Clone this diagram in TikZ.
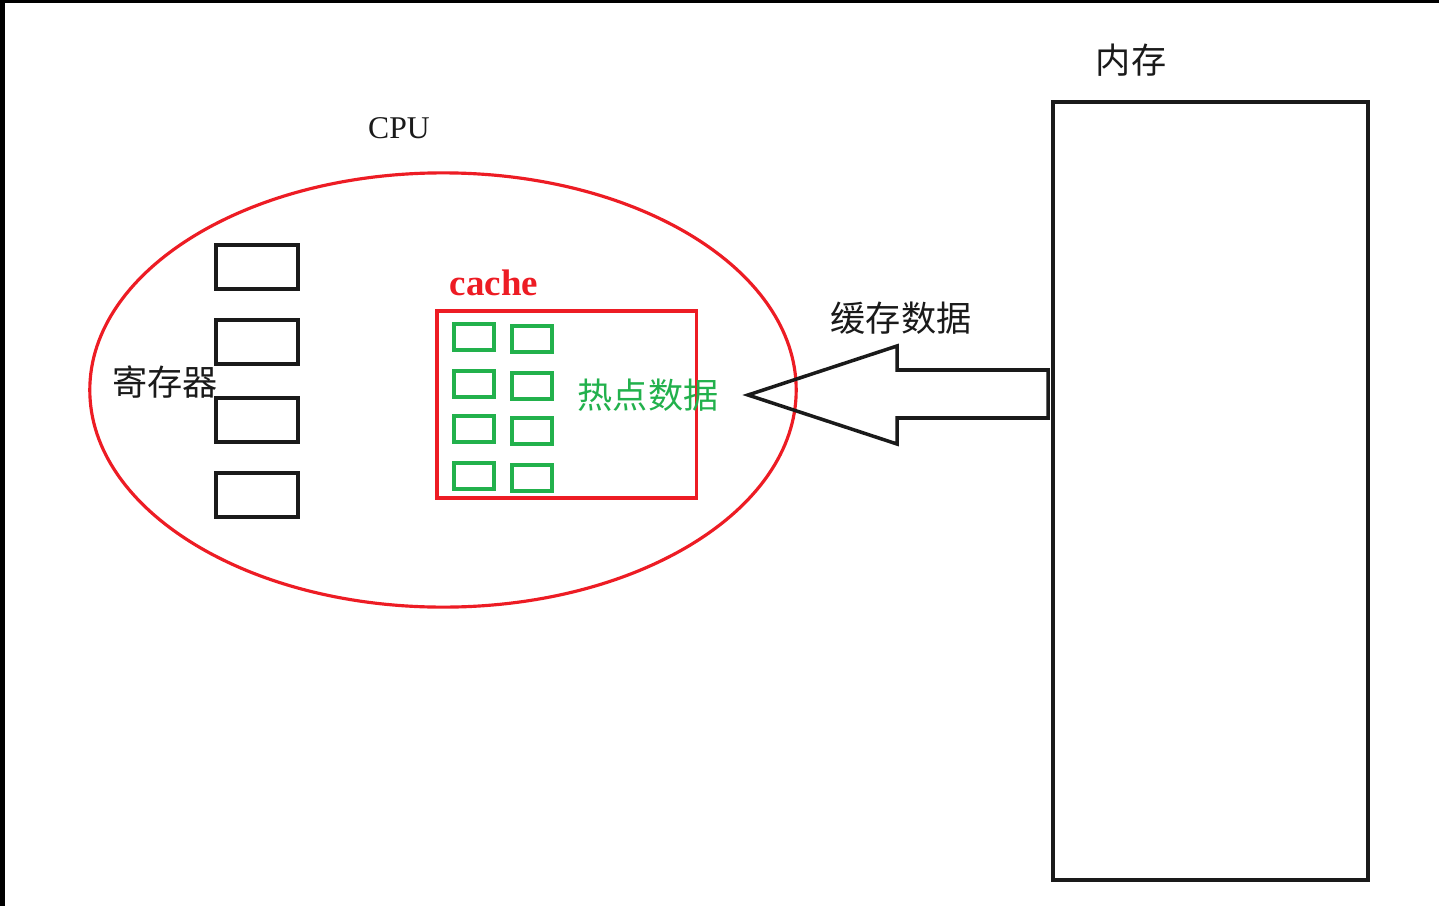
\documentclass[tikz,border=0pt]{standalone}
\usepackage{fontspec}
\setmainfont{Liberation Serif}
\newfontfamily\cjk{Noto Sans CJK SC}
\usepackage{xcolor}
\usepackage{tikz}
\usetikzlibrary{shapes.geometric}
\definecolor{pRed}{HTML}{ED1C24}
\definecolor{pGreen}{HTML}{22B14C}
\definecolor{pInk}{HTML}{1A1A1A}
\tikzset{
  regbox/.style={draw=pInk, line width=1pt, minimum width=0.82cm, minimum height=0.44cm, inner sep=0pt},
  hotbox/.style={draw=pGreen, line width=1pt, minimum width=0.40cm, minimum height=0.26cm, inner sep=0pt},
  cnlabel/.style={font=\cjk\fontsize{10pt}{12pt}\selectfont, text=pInk, inner sep=0pt},
}

\begin{document}
\begin{tikzpicture}[x=0.01cm, y=-0.01cm]
  \useasboundingbox (0,0) rectangle (1439,906);
  \fill[white] (0,0) rectangle (1439,906);
  % window edge
  \fill[black] (0,0) rectangle (5,906);
  \fill[black] (0,0) rectangle (1439,3);
  % CPU
  \node[ellipse, draw=pRed, line width=0.9pt, minimum width=7.06cm, minimum height=4.34cm] (cpu) at (443,390) {};
  \node[font=\fontsize{9pt}{11pt}\selectfont, text=pInk] (cpulbl) at (399,128) {CPU};
  % registers
  \node[regbox] (r1) at (257,267) {};
  \node[regbox] (r2) at (257,342) {};
  \node[regbox] (r3) at (257,420) {};
  \node[regbox] (r4) at (257,495) {};
  \node[cnlabel] (reglbl) at (165,382) {寄存器};
  % cache
  \node[draw=pRed, line width=0.9pt, minimum width=2.59cm, minimum height=1.87cm, inner sep=0pt] (cache) at (566.5,404.5) {};
  \node[font=\bfseries\fontsize{10.5pt}{13pt}\selectfont, text=pRed] (cachelbl) at (494,283) {cache};
  \foreach \y [count=\i] in {337,384,429,476}{
    \node[hotbox] (h\i a) at (474,\y) {};
    \node[hotbox] (h\i b) at (532,\y+2) {};
  }
  \node[cnlabel, text=pGreen] (hotlbl) at (648,395) {热点数据};
  % memory
  \node[draw=pInk, line width=1pt, minimum width=3.15cm, minimum height=7.78cm, inner sep=0pt] (mem) at (1210.5,491) {};
  \node[cnlabel] (memlbl) at (1131,60) {内存};
  % load arrow
  \draw[pInk, line width=1pt, line join=miter]
    (748,395) -- (897,346) -- (897,370) -- (1048,370) -- (1048,418) -- (897,418) -- (897,444) -- cycle;
  \node[cnlabel] (arrowlbl) at (901,318) {缓存数据};
\end{tikzpicture}
\end{document}
